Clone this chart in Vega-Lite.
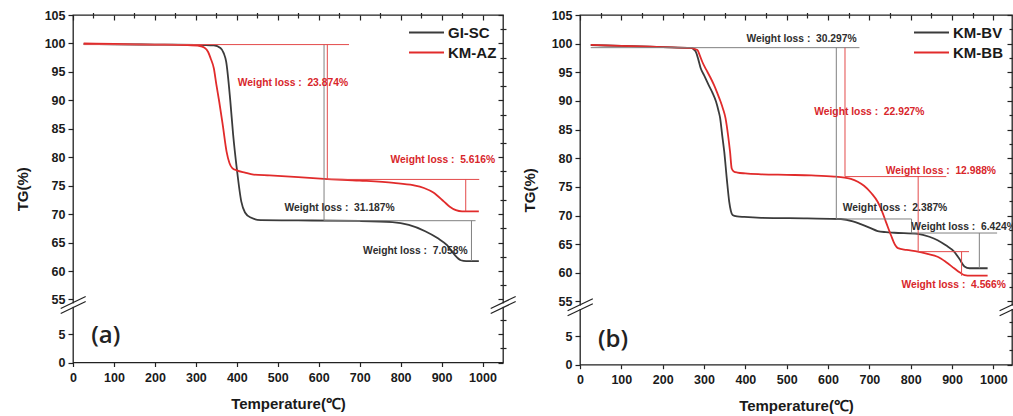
{
  "$schema": "https://vega.github.io/schema/vega-lite/v6.json",
  "padding": {"left": 14, "top": 8, "right": 0, "bottom": 0},
  "background": "white",
  "bounds": "flush",
  "spacing": 77,
  "config": {
    "font": "Liberation Sans",
    "view": {"stroke": "#222222", "strokeWidth": 1.3},
    "axis": {"labelFont": "Liberation Sans", "labelFontWeight": "bold", "labelFontSize": 12.5, "labelColor": "#1a1a1a", "tickColor": "#222222", "tickWidth": 1.2, "titleFont": "Liberation Sans", "titleFontWeight": "bold", "titleFontSize": 15, "titleColor": "#1a1a1a", "grid": false, "domain": false, "labelFlush": false, "labelOverlap": false, "labelBound": false},
    "legend": {"orient": "none", "symbolType": "M-3,0H3", "symbolSize": 136, "symbolStrokeWidth": 2, "labelFont": "Liberation Sans", "labelFontSize": 15, "labelFontWeight": "bold", "labelColor": "#1a1a1a", "rowPadding": 4, "labelOffset": 14, "padding": 0, "title": null}
  },
  "datasets": {
    "curvesA": [
      {"series": "GI-SC", "T": 26, "TG": 99.9}, {"series": "GI-SC", "T": 100, "TG": 99.85}, {"series": "GI-SC", "T": 200, "TG": 99.8}, {"series": "GI-SC", "T": 300, "TG": 99.75}, {"series": "GI-SC", "T": 344, "TG": 99.65}, {"series": "GI-SC", "T": 360, "TG": 99.2}, {"series": "GI-SC", "T": 368, "TG": 98.3}, {"series": "GI-SC", "T": 374, "TG": 96.8}, {"series": "GI-SC", "T": 384, "TG": 90.0}, {"series": "GI-SC", "T": 391, "TG": 84.0}, {"series": "GI-SC", "T": 400, "TG": 78.0}, {"series": "GI-SC", "T": 411, "TG": 72.2}, {"series": "GI-SC", "T": 420, "TG": 70.3}, {"series": "GI-SC", "T": 434, "TG": 69.4}, {"series": "GI-SC", "T": 458, "TG": 68.95}, {"series": "GI-SC", "T": 550, "TG": 68.9}, {"series": "GI-SC", "T": 700, "TG": 68.8}, {"series": "GI-SC", "T": 780, "TG": 68.6}, {"series": "GI-SC", "T": 820, "TG": 68.1}, {"series": "GI-SC", "T": 860, "TG": 67.0}, {"series": "GI-SC", "T": 890, "TG": 65.8}, {"series": "GI-SC", "T": 914, "TG": 64.5}, {"series": "GI-SC", "T": 930, "TG": 63.0}, {"series": "GI-SC", "T": 947, "TG": 61.9}, {"series": "GI-SC", "T": 960, "TG": 61.75}, {"series": "GI-SC", "T": 991, "TG": 61.75},
      {"series": "KM-AZ", "T": 26, "TG": 100.0}, {"series": "KM-AZ", "T": 100, "TG": 99.9}, {"series": "KM-AZ", "T": 200, "TG": 99.8}, {"series": "KM-AZ", "T": 280, "TG": 99.7}, {"series": "KM-AZ", "T": 310, "TG": 99.55}, {"series": "KM-AZ", "T": 320, "TG": 99.3}, {"series": "KM-AZ", "T": 330, "TG": 98.5}, {"series": "KM-AZ", "T": 336, "TG": 97.4}, {"series": "KM-AZ", "T": 344, "TG": 95.6}, {"series": "KM-AZ", "T": 350, "TG": 92.8}, {"series": "KM-AZ", "T": 357, "TG": 89.8}, {"series": "KM-AZ", "T": 366, "TG": 85.5}, {"series": "KM-AZ", "T": 375, "TG": 81.0}, {"series": "KM-AZ", "T": 382, "TG": 79.0}, {"series": "KM-AZ", "T": 389, "TG": 78.1}, {"series": "KM-AZ", "T": 400, "TG": 77.7}, {"series": "KM-AZ", "T": 420, "TG": 77.3}, {"series": "KM-AZ", "T": 441, "TG": 76.95}, {"series": "KM-AZ", "T": 480, "TG": 76.8}, {"series": "KM-AZ", "T": 550, "TG": 76.5}, {"series": "KM-AZ", "T": 613, "TG": 76.2}, {"series": "KM-AZ", "T": 700, "TG": 75.9}, {"series": "KM-AZ", "T": 783, "TG": 75.5}, {"series": "KM-AZ", "T": 830, "TG": 75.1}, {"series": "KM-AZ", "T": 857, "TG": 74.6}, {"series": "KM-AZ", "T": 880, "TG": 73.8}, {"series": "KM-AZ", "T": 906, "TG": 72.2}, {"series": "KM-AZ", "T": 920, "TG": 71.3}, {"series": "KM-AZ", "T": 935, "TG": 70.7}, {"series": "KM-AZ", "T": 950, "TG": 70.5}, {"series": "KM-AZ", "T": 991, "TG": 70.5}
    ],
    "curvesB": [
      {"series": "KM-BV", "T": 26, "TG": 99.75}, {"series": "KM-BV", "T": 100, "TG": 99.6}, {"series": "KM-BV", "T": 200, "TG": 99.4}, {"series": "KM-BV", "T": 268, "TG": 99.25}, {"series": "KM-BV", "T": 275, "TG": 99.0}, {"series": "KM-BV", "T": 280, "TG": 98.6}, {"series": "KM-BV", "T": 286, "TG": 97.3}, {"series": "KM-BV", "T": 292, "TG": 95.7}, {"series": "KM-BV", "T": 300, "TG": 94.5}, {"series": "KM-BV", "T": 311, "TG": 92.8}, {"series": "KM-BV", "T": 320, "TG": 91.5}, {"series": "KM-BV", "T": 329, "TG": 89.9}, {"series": "KM-BV", "T": 335, "TG": 88.3}, {"series": "KM-BV", "T": 339, "TG": 87.0}, {"series": "KM-BV", "T": 344, "TG": 84.0}, {"series": "KM-BV", "T": 349, "TG": 81.1}, {"series": "KM-BV", "T": 355, "TG": 76.5}, {"series": "KM-BV", "T": 361, "TG": 72.4}, {"series": "KM-BV", "T": 365, "TG": 70.8}, {"series": "KM-BV", "T": 369, "TG": 70.1}, {"series": "KM-BV", "T": 380, "TG": 69.85}, {"series": "KM-BV", "T": 397, "TG": 69.75}, {"series": "KM-BV", "T": 438, "TG": 69.6}, {"series": "KM-BV", "T": 550, "TG": 69.5}, {"series": "KM-BV", "T": 631, "TG": 69.4}, {"series": "KM-BV", "T": 660, "TG": 69.0}, {"series": "KM-BV", "T": 679, "TG": 68.5}, {"series": "KM-BV", "T": 700, "TG": 67.9}, {"series": "KM-BV", "T": 720, "TG": 67.3}, {"series": "KM-BV", "T": 740, "TG": 67.1}, {"series": "KM-BV", "T": 760, "TG": 67.0}, {"series": "KM-BV", "T": 817, "TG": 66.8}, {"series": "KM-BV", "T": 845, "TG": 66.3}, {"series": "KM-BV", "T": 865, "TG": 65.7}, {"series": "KM-BV", "T": 885, "TG": 64.8}, {"series": "KM-BV", "T": 905, "TG": 63.7}, {"series": "KM-BV", "T": 918, "TG": 62.4}, {"series": "KM-BV", "T": 930, "TG": 61.1}, {"series": "KM-BV", "T": 942, "TG": 60.8}, {"series": "KM-BV", "T": 986, "TG": 60.8},
      {"series": "KM-BB", "T": 26, "TG": 99.8}, {"series": "KM-BB", "T": 100, "TG": 99.6}, {"series": "KM-BB", "T": 200, "TG": 99.4}, {"series": "KM-BB", "T": 270, "TG": 99.25}, {"series": "KM-BB", "T": 280, "TG": 99.0}, {"series": "KM-BB", "T": 284, "TG": 98.9}, {"series": "KM-BB", "T": 290, "TG": 97.9}, {"series": "KM-BB", "T": 296, "TG": 96.8}, {"series": "KM-BB", "T": 302, "TG": 95.9}, {"series": "KM-BB", "T": 308, "TG": 95.1}, {"series": "KM-BB", "T": 316, "TG": 94.0}, {"series": "KM-BB", "T": 324, "TG": 92.8}, {"series": "KM-BB", "T": 332, "TG": 91.4}, {"series": "KM-BB", "T": 340, "TG": 89.9}, {"series": "KM-BB", "T": 346, "TG": 88.6}, {"series": "KM-BB", "T": 352, "TG": 87.0}, {"series": "KM-BB", "T": 358, "TG": 84.1}, {"series": "KM-BB", "T": 363, "TG": 81.1}, {"series": "KM-BB", "T": 367, "TG": 78.2}, {"series": "KM-BB", "T": 372, "TG": 77.7}, {"series": "KM-BB", "T": 381, "TG": 77.5}, {"series": "KM-BB", "T": 400, "TG": 77.35}, {"series": "KM-BB", "T": 438, "TG": 77.2}, {"series": "KM-BB", "T": 500, "TG": 77.1}, {"series": "KM-BB", "T": 560, "TG": 77.0}, {"series": "KM-BB", "T": 615, "TG": 76.8}, {"series": "KM-BB", "T": 640, "TG": 76.6}, {"series": "KM-BB", "T": 655, "TG": 76.4}, {"series": "KM-BB", "T": 672, "TG": 75.9}, {"series": "KM-BB", "T": 687, "TG": 75.2}, {"series": "KM-BB", "T": 705, "TG": 73.9}, {"series": "KM-BB", "T": 720, "TG": 72.4}, {"series": "KM-BB", "T": 728, "TG": 71.2}, {"series": "KM-BB", "T": 740, "TG": 68.9}, {"series": "KM-BB", "T": 752, "TG": 66.6}, {"series": "KM-BB", "T": 762, "TG": 64.9}, {"series": "KM-BB", "T": 769, "TG": 64.3}, {"series": "KM-BB", "T": 790, "TG": 64.0}, {"series": "KM-BB", "T": 817, "TG": 63.7}, {"series": "KM-BB", "T": 840, "TG": 63.3}, {"series": "KM-BB", "T": 865, "TG": 62.8}, {"series": "KM-BB", "T": 885, "TG": 61.9}, {"series": "KM-BB", "T": 905, "TG": 60.8}, {"series": "KM-BB", "T": 918, "TG": 60.1}, {"series": "KM-BB", "T": 930, "TG": 59.6}, {"series": "KM-BB", "T": 945, "TG": 59.5}, {"series": "KM-BB", "T": 986, "TG": 59.5}
    ],
    "rulesA": [
      {"kind": "GI-SC", "x": 613, "x2": 613, "y": 99.85, "y2": 68.85},
      {"kind": "GI-SC", "x": 613, "x2": 983, "y": 68.85, "y2": 68.85},
      {"kind": "GI-SC", "x": 973, "x2": 973, "y": 68.85, "y2": 61.75},
      {"kind": "KM-AZ", "x": 26, "x2": 674, "y": 99.8, "y2": 99.8},
      {"kind": "KM-AZ", "x": 621, "x2": 621, "y": 99.8, "y2": 76.1},
      {"kind": "KM-AZ", "x": 621, "x2": 992, "y": 76.1, "y2": 76.1},
      {"kind": "KM-AZ", "x": 959, "x2": 959, "y": 76.1, "y2": 70.5}
    ],
    "rulesB": [
      {"kind": "KM-BV", "x": 26, "x2": 676, "y": 99.3, "y2": 99.3},
      {"kind": "KM-BV", "x": 620, "x2": 620, "y": 99.3, "y2": 69.4},
      {"kind": "KM-BV", "x": 620, "x2": 802, "y": 69.4, "y2": 69.4},
      {"kind": "KM-BV", "x": 802, "x2": 802, "y": 69.4, "y2": 66.95},
      {"kind": "KM-BV", "x": 802, "x2": 1009, "y": 66.95, "y2": 66.95},
      {"kind": "KM-BV", "x": 966, "x2": 966, "y": 66.95, "y2": 60.8},
      {"kind": "KM-BB", "x": 641, "x2": 641, "y": 99.3, "y2": 76.8},
      {"kind": "KM-BB", "x": 641, "x2": 886, "y": 76.8, "y2": 76.8},
      {"kind": "KM-BB", "x": 818, "x2": 818, "y": 76.8, "y2": 63.7},
      {"kind": "KM-BB", "x": 818, "x2": 941, "y": 63.7, "y2": 63.7},
      {"kind": "KM-BB", "x": 923, "x2": 923, "y": 63.7, "y2": 59.5}
    ],
    "textA": [
      {"kind": "KM-AZ", "x": 537, "y": 93.0, "label": "Weight loss :\u00a0 23.874%"},
      {"kind": "KM-AZ", "x": 903, "y": 79.6, "label": "Weight loss :\u00a0 5.616%"},
      {"kind": "GI-SC", "x": 651, "y": 71.0, "label": "Weight loss :\u00a0 31.187%"},
      {"kind": "GI-SC", "x": 836, "y": 63.6, "label": "Weight loss :\u00a0 7.058%"}
    ],
    "textB": [
      {"kind": "KM-BV", "x": 536, "y": 100.8, "label": "Weight loss :\u00a0 30.297%"},
      {"kind": "KM-BB", "x": 700, "y": 88.1, "label": "Weight loss :\u00a0 22.927%"},
      {"kind": "KM-BB", "x": 873, "y": 77.8, "label": "Weight loss :\u00a0 12.988%"},
      {"kind": "KM-BV", "x": 762, "y": 71.3, "label": "Weight loss :\u00a0 2.387%"},
      {"kind": "KM-BV", "x": 928, "y": 68.0, "label": "Weight loss :\u00a0 6.424%"},
      {"kind": "KM-BB", "x": 904, "y": 57.8, "label": "Weight loss :\u00a0 4.566%"}
    ],
    "breaksA": [
      {"x": -30, "x2": 31, "y": 9.49, "y2": 55.53},
      {"x": -30, "x2": 31, "y": 8.61, "y2": 54.65},
      {"x": 1020, "x2": 1081, "y": 9.49, "y2": 55.53},
      {"x": 1020, "x2": 1081, "y": 8.61, "y2": 54.65}
    ],
    "gapsA": [
      {"x": 0, "y": 54.31, "y2": 9.79},
      {"x": 1050, "y": 54.31, "y2": 9.79}
    ],
    "breaksB": [
      {"x": -30, "x2": 31, "y": 9.42, "y2": 55.49},
      {"x": -30, "x2": 31, "y": 8.55, "y2": 54.62},
      {"x": 1015, "x2": 1076, "y": 9.42, "y2": 55.49},
      {"x": 1015, "x2": 1076, "y": 8.55, "y2": 54.62}
    ],
    "gapsB": [
      {"x": 0, "y": 10.31, "y2": 9.72},
      {"x": 1045, "y": 10.31, "y2": 9.72}
    ],
    "labelA": [{"x": 80, "y": 4.57, "label": "(a)"}],
    "labelB": [{"x": 80, "y": 4.36, "label": "(b)"}]
  },
  "resolve": {"scale": {"x": "independent", "y": "independent", "color": "independent"}, "legend": {"color": "independent"}},
  "hconcat": [
    {
      "width": 430,
      "height": 347.5,
      "resolve": {"axis": {"x": "independent", "y": "independent"}},
      "layer": [
        {
          "data": {"name": "curvesA"},
          "mark": {"type": "line", "strokeWidth": 1.8, "interpolate": "monotone"},
          "encoding": {
            "x": {"field": "T", "type": "quantitative", "scale": {"domain": [0, 1050], "nice": false, "zero": false}, "axis": {"values": [0, 100, 200, 300, 400, 500, 600, 700, 800, 900, 1000], "tickSize": 4, "labelPadding": 5, "title": "Temperature(℃)", "titlePadding": 12, "format": "d"}},
            "y": {"field": "TG", "type": "quantitative", "scale": {"domain": [0, 10.19, 54.12, 105], "range": [347.5, 289.5, 289.5, 0], "nice": false, "zero": false}, "axis": {"values": [0, 5, 55, 60, 65, 70, 75, 80, 85, 90, 95, 100, 105], "tickSize": 5, "labelPadding": 3, "title": "TG(%)", "titlePadding": 14}},
            "color": {"field": "series", "type": "nominal", "scale": {"domain": ["GI-SC", "KM-AZ"], "range": ["#3b3b3b", "#e12b2b"]}, "legend": {"legendX": 346, "legendY": 10}}
          }
        },
        {
          "data": {"name": "rulesA"},
          "transform": [{"filter": "datum.kind === 'GI-SC'"}],
          "mark": {"type": "rule", "color": "#808080", "strokeWidth": 1},
          "encoding": {
            "x": {"field": "x", "type": "quantitative", "axis": {"values": [50, 150, 250, 350, 450, 550, 650, 750, 850, 950], "tickSize": 2.5, "labels": false, "title": null}},
            "x2": {"field": "x2"},
            "y": {"field": "y", "type": "quantitative", "axis": {"values": [2.5, 7.5, 57.5, 62.5, 67.5, 72.5, 77.5, 82.5, 87.5, 92.5, 97.5, 102.5], "tickSize": 3, "labels": false, "title": null}},
            "y2": {"field": "y2"}
          }
        },
        {
          "data": {"name": "rulesA"},
          "transform": [{"filter": "datum.kind === 'KM-AZ'"}],
          "mark": {"type": "rule", "color": "#e34a4a", "strokeWidth": 1},
          "encoding": {
            "x": {"field": "x", "type": "quantitative", "axis": {"orient": "top", "values": [0, 100, 200, 300, 400, 500, 600, 700, 800, 900, 1000], "tickSize": -5, "labels": false, "title": null}},
            "x2": {"field": "x2"},
            "y": {"field": "y", "type": "quantitative", "axis": {"orient": "right", "values": [0, 5, 55, 60, 65, 70, 75, 80, 85, 90, 95, 100, 105], "tickSize": -5, "labels": false, "title": null}},
            "y2": {"field": "y2"}
          }
        },
        {
          "data": {"name": "textA"},
          "transform": [{"filter": "datum.kind === 'GI-SC'"}],
          "mark": {"type": "text", "font": "Liberation Sans", "fontWeight": "bold", "fontSize": 10.3, "color": "#2e2e2e", "align": "center", "baseline": "middle"},
          "encoding": {
            "x": {"field": "x", "type": "quantitative", "axis": {"orient": "top", "values": [50, 150, 250, 350, 450, 550, 650, 750, 850, 950], "tickSize": -3, "labels": false, "title": null}},
            "y": {"field": "y", "type": "quantitative", "axis": {"orient": "right", "values": [2.5, 7.5, 57.5, 62.5, 67.5, 72.5, 77.5, 82.5, 87.5, 92.5, 97.5, 102.5], "tickSize": -3, "labels": false, "title": null}},
            "text": {"field": "label"}
          }
        },
        {
          "data": {"name": "textA"},
          "transform": [{"filter": "datum.kind === 'KM-AZ'"}],
          "mark": {"type": "text", "font": "Liberation Sans", "fontWeight": "bold", "fontSize": 10.3, "color": "#d8262b", "align": "center", "baseline": "middle"},
          "encoding": {
            "x": {"field": "x", "type": "quantitative", "axis": null},
            "y": {"field": "y", "type": "quantitative", "axis": null},
            "text": {"field": "label"}
          }
        },
        {
          "data": {"name": "gapsA"},
          "mark": {"type": "rule", "color": "white", "strokeWidth": 3, "clip": false},
          "encoding": {
            "x": {"field": "x", "type": "quantitative", "axis": null},
            "y": {"field": "y", "type": "quantitative", "axis": null},
            "y2": {"field": "y2"}
          }
        },
        {
          "data": {"name": "breaksA"},
          "mark": {"type": "rule", "color": "#222222", "strokeWidth": 1.2, "clip": false},
          "encoding": {
            "x": {"field": "x", "type": "quantitative", "axis": null},
            "x2": {"field": "x2"},
            "y": {"field": "y", "type": "quantitative", "axis": null},
            "y2": {"field": "y2"}
          }
        },
        {
          "data": {"name": "labelA"},
          "mark": {"type": "text", "font": "Open Sans", "fontWeight": 600, "fontSize": 24, "color": "#222222", "align": "center", "baseline": "middle"},
          "encoding": {
            "x": {"field": "x", "type": "quantitative", "axis": null},
            "y": {"field": "y", "type": "quantitative", "axis": null},
            "text": {"field": "label"}
          }
        }
      ]
    },
    {
      "width": 432,
      "height": 349.7,
      "resolve": {"axis": {"x": "independent", "y": "independent"}},
      "layer": [
        {
          "data": {"name": "curvesB"},
          "mark": {"type": "line", "strokeWidth": 1.8, "interpolate": "monotone"},
          "encoding": {
            "x": {"field": "T", "type": "quantitative", "scale": {"domain": [0, 1045], "nice": false, "zero": false}, "axis": {"values": [0, 100, 200, 300, 400, 500, 600, 700, 800, 900, 1000], "tickSize": 4, "labelPadding": 5, "title": "Temperature(℃)", "titlePadding": 12, "format": "d"}},
            "y": {"field": "TG", "type": "quantitative", "scale": {"domain": [0, 10.47, 54.44, 105], "range": [349.7, 289.7, 289.7, 0], "nice": false, "zero": false}, "axis": {"values": [0, 5, 55, 60, 65, 70, 75, 80, 85, 90, 95, 100, 105], "tickSize": 5, "labelPadding": 3, "title": "TG(%)", "titlePadding": 14}},
            "color": {"field": "series", "type": "nominal", "scale": {"domain": ["KM-BV", "KM-BB"], "range": ["#3b3b3b", "#e12b2b"]}, "legend": {"legendX": 344, "legendY": 10}}
          }
        },
        {
          "data": {"name": "rulesB"},
          "transform": [{"filter": "datum.kind === 'KM-BV'"}],
          "mark": {"type": "rule", "color": "#808080", "strokeWidth": 1},
          "encoding": {
            "x": {"field": "x", "type": "quantitative", "axis": {"values": [50, 150, 250, 350, 450, 550, 650, 750, 850, 950], "tickSize": 2.5, "labels": false, "title": null}},
            "x2": {"field": "x2"},
            "y": {"field": "y", "type": "quantitative", "axis": {"values": [2.5, 7.5, 57.5, 62.5, 67.5, 72.5, 77.5, 82.5, 87.5, 92.5, 97.5, 102.5], "tickSize": 3, "labels": false, "title": null}},
            "y2": {"field": "y2"}
          }
        },
        {
          "data": {"name": "rulesB"},
          "transform": [{"filter": "datum.kind === 'KM-BB'"}],
          "mark": {"type": "rule", "color": "#e34a4a", "strokeWidth": 1},
          "encoding": {
            "x": {"field": "x", "type": "quantitative", "axis": {"orient": "top", "values": [0, 100, 200, 300, 400, 500, 600, 700, 800, 900, 1000], "tickSize": -5, "labels": false, "title": null}},
            "x2": {"field": "x2"},
            "y": {"field": "y", "type": "quantitative", "axis": {"orient": "right", "values": [0, 5, 55, 60, 65, 70, 75, 80, 85, 90, 95, 100, 105], "tickSize": -5, "labels": false, "title": null}},
            "y2": {"field": "y2"}
          }
        },
        {
          "data": {"name": "textB"},
          "transform": [{"filter": "datum.kind === 'KM-BV'"}],
          "mark": {"type": "text", "font": "Liberation Sans", "fontWeight": "bold", "fontSize": 10.3, "color": "#2e2e2e", "align": "center", "baseline": "middle"},
          "encoding": {
            "x": {"field": "x", "type": "quantitative", "axis": {"orient": "top", "values": [50, 150, 250, 350, 450, 550, 650, 750, 850, 950], "tickSize": -3, "labels": false, "title": null}},
            "y": {"field": "y", "type": "quantitative", "axis": {"orient": "right", "values": [2.5, 7.5, 57.5, 62.5, 67.5, 72.5, 77.5, 82.5, 87.5, 92.5, 97.5, 102.5], "tickSize": -3, "labels": false, "title": null}},
            "text": {"field": "label"}
          }
        },
        {
          "data": {"name": "textB"},
          "transform": [{"filter": "datum.kind === 'KM-BB'"}],
          "mark": {"type": "text", "font": "Liberation Sans", "fontWeight": "bold", "fontSize": 10.3, "color": "#d8262b", "align": "center", "baseline": "middle"},
          "encoding": {
            "x": {"field": "x", "type": "quantitative", "axis": null},
            "y": {"field": "y", "type": "quantitative", "axis": null},
            "text": {"field": "label"}
          }
        },
        {
          "data": {"name": "gapsB"},
          "mark": {"type": "rule", "color": "white", "strokeWidth": 3, "clip": false},
          "encoding": {
            "x": {"field": "x", "type": "quantitative", "axis": null},
            "y": {"field": "y", "type": "quantitative", "axis": null},
            "y2": {"field": "y2"}
          }
        },
        {
          "data": {"name": "breaksB"},
          "mark": {"type": "rule", "color": "#222222", "strokeWidth": 1.2, "clip": false},
          "encoding": {
            "x": {"field": "x", "type": "quantitative", "axis": null},
            "x2": {"field": "x2"},
            "y": {"field": "y", "type": "quantitative", "axis": null},
            "y2": {"field": "y2"}
          }
        },
        {
          "data": {"name": "labelB"},
          "mark": {"type": "text", "font": "Open Sans", "fontWeight": 600, "fontSize": 24, "color": "#222222", "align": "center", "baseline": "middle"},
          "encoding": {
            "x": {"field": "x", "type": "quantitative", "axis": null},
            "y": {"field": "y", "type": "quantitative", "axis": null},
            "text": {"field": "label"}
          }
        }
      ]
    }
  ]
}
